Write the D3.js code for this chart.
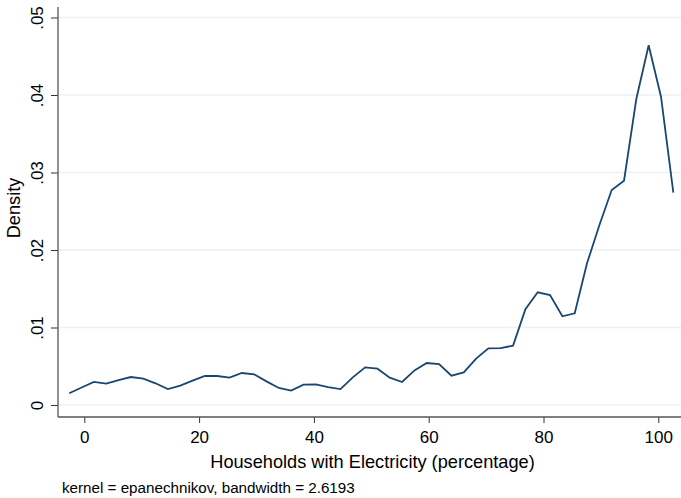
<!DOCTYPE html>
<html lang="en">
<head>
<meta charset="utf-8">
<title>Kernel density: Households with Electricity</title>
<script src="https://cdn.jsdelivr.net/npm/d3@7"></script>
<style>
	body { margin: 0; background: #fff; }
	text { font-family: "Liberation Sans", Arial, Helvetica, sans-serif; fill: #000; }
</style>
</head>
<body>
<script>
// evaluation points of the density (percentage)
var xPoints = [-2.62, -0.47, 1.68, 3.82, 5.97, 8.12, 10.27, 12.41, 14.56, 16.71,
	18.86, 21.01, 23.15, 25.30, 27.45, 29.60, 31.74, 33.89, 36.04, 38.19,
	40.33, 42.48, 44.63, 46.78, 48.93, 51.07, 53.22, 55.37, 57.52, 59.66,
	61.81, 63.96, 66.11, 68.26, 70.40, 72.55, 74.70, 76.85, 78.99, 81.14,
	83.29, 85.44, 87.58, 89.73, 91.88, 94.03, 96.17, 98.32, 100.47, 102.62];

// density estimates
var density = [0.00151, 0.00226, 0.00297, 0.00275, 0.00320, 0.00361, 0.00340, 0.00280, 0.00206, 0.00250,
	0.00314, 0.00374, 0.00374, 0.00353, 0.00413, 0.00396, 0.00305, 0.00220, 0.00185, 0.00262,
	0.00267, 0.00232, 0.00206, 0.00357, 0.00486, 0.00468, 0.00352, 0.00297, 0.00447, 0.00542,
	0.00529, 0.00378, 0.00421, 0.00598, 0.00731, 0.00735, 0.00766, 0.01235, 0.01454, 0.01419,
	0.01145, 0.01183, 0.01828, 0.02320, 0.02774, 0.02894, 0.03948, 0.04641, 0.03978, 0.02739];

var xTicks = [0, 20, 40, 60, 80, 100];
var yTicks = [0, 0.01, 0.02, 0.03, 0.04, 0.05];
var yTickLabels = ["0", ".01", ".02", ".03", ".04", ".05"];

var xTitle = "Households with Electricity (percentage)";
var yTitle = "Density";
var note = "kernel = epanechnikov, bandwidth = 2.6193";

//Size
var w = 681;
var h = 498;
var plotLeft = 58, plotRight = 681, plotTop = 7, plotBottom = 417;

var svg = d3.select("body").append("svg")
	.attr("width", w)
	.attr("height", h);

//Scales
var xScale = d3.scaleLinear().domain([0, 100]).range([84.3, 658.3]);
var yScale = d3.scaleLinear().domain([0, 0.05]).range([405, 17.5]);

//Gridlines
svg.append("g")
	.selectAll("line")
	.data(yTicks)
	.enter()
	.append("line")
	.attr("x1", plotLeft)
	.attr("x2", plotRight)
	.attr("y1", function(d) { return yScale(d); })
	.attr("y2", function(d) { return yScale(d); })
	.attr("stroke", "#eaf2f3")
	.attr("stroke-width", 1.5);

//Y axis
var yAxis = d3.axisLeft(yScale)
	.tickValues(yTicks)
	.tickSize(7)
	.tickPadding(0)
	.tickFormat(function(d, i) { return yTickLabels[i]; });

var gy = svg.append("g")
	.attr("transform", "translate(" + plotLeft + ",0)")
	.call(yAxis);
gy.select(".domain").remove();
gy.selectAll(".tick line").attr("stroke", "#333").attr("stroke-width", 1);
gy.selectAll(".tick text")
	.attr("x", 0)
	.attr("y", 0)
	.attr("dy", null)
	.attr("transform", "translate(-15,0) rotate(-90)")
	.attr("text-anchor", "middle")
	.style("font-size", "17px")
	.attr("fill", "#000");

//X axis
var xAxis = d3.axisBottom(xScale)
	.tickValues(xTicks)
	.tickSize(6)
	.tickPadding(8)
	.tickFormat(d3.format("d"));

var gx = svg.append("g")
	.attr("transform", "translate(0," + plotBottom + ")")
	.call(xAxis);
gx.select(".domain").remove();
gx.selectAll(".tick line").attr("stroke", "#333").attr("stroke-width", 1);
gx.selectAll(".tick text")
	.style("font-size", "17px")
	.attr("fill", "#000");

//Axis lines
svg.append("line")
	.attr("x1", plotLeft).attr("x2", plotLeft)
	.attr("y1", plotTop).attr("y2", plotBottom)
	.attr("stroke", "#555").attr("stroke-width", 1.3);
svg.append("line")
	.attr("x1", plotLeft).attr("x2", plotRight)
	.attr("y1", plotBottom).attr("y2", plotBottom)
	.attr("stroke", "#555").attr("stroke-width", 1.3);

//Density line
var line = d3.line()
	.x(function(d, i) { return xScale(xPoints[i]); })
	.y(function(d) { return yScale(d); });

svg.append("path")
	.datum(density)
	.attr("d", line)
	.attr("fill", "none")
	.attr("stroke", "#1a476f")
	.attr("stroke-width", 1.8)
	.attr("stroke-linejoin", "miter");

//Titles
svg.append("text")
	.attr("x", 372.5)
	.attr("y", 467.5)
	.attr("text-anchor", "middle")
	.style("font-size", "18.2px")
	.text(xTitle);

svg.append("text")
	.attr("transform", "translate(20,208) rotate(-90)")
	.attr("text-anchor", "middle")
	.style("font-size", "18.2px")
	.text(yTitle);

svg.append("text")
	.attr("x", 62)
	.attr("y", 492.5)
	.style("font-size", "15.2px")
	.text(note);
</script>
</body>
</html>
